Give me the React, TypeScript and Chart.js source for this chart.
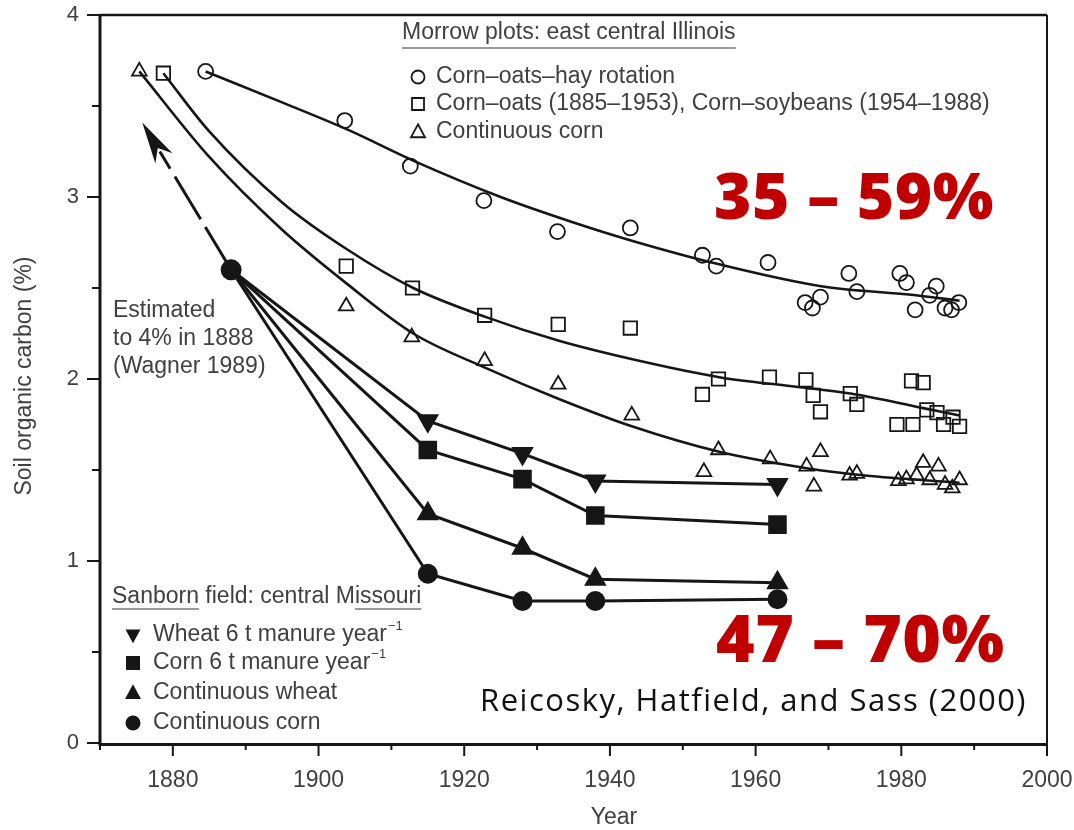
import { useEffect, useRef } from 'react';
import { Chart, registerables } from 'chart.js';
Chart.register(...registerables);

const FONT = '"Liberation Sans", Arial, sans-serif';
const BIG_FONT = '"Open Sans", "Noto Sans", sans-serif';
const INK = '#161616';
const GREY = '#404040';
const RED = '#c00000';

// Axis ranges / ticks
const xMin = 1870;
const xMax = 2000;
const yMin = 0;
const yMax = 4;
const xTickLabels = [1880, 1900, 1920, 1940, 1960, 1980, 2000];
const yTickLabels = [0, 1, 2, 3, 4];

// Morrow plots: observed points
const circleYears = [1884.5, 1903.6, 1912.6, 1922.7, 1932.8, 1942.8, 1952.7, 1954.6, 1961.7, 1966.8, 1967.8, 1968.9, 1972.8, 1973.9, 1979.8, 1980.7, 1981.9, 1983.9, 1984.8, 1986.0, 1986.9, 1987.9];
const circleVals = [3.69, 3.42, 3.17, 2.98, 2.81, 2.83, 2.68, 2.62, 2.64, 2.42, 2.39, 2.45, 2.58, 2.48, 2.58, 2.53, 2.38, 2.46, 2.51, 2.39, 2.38, 2.42];

const squareYears = [1878.7, 1903.8, 1912.9, 1922.8, 1932.9, 1942.8, 1952.7, 1954.9, 1961.9, 1966.9, 1967.9, 1968.9, 1973.0, 1973.9, 1979.4, 1981.6, 1981.4, 1983.0, 1983.5, 1984.9, 1985.8, 1987.1, 1988.0];
const squareVals = [3.68, 2.62, 2.50, 2.35, 2.30, 2.28, 1.915, 2.00, 2.01, 1.995, 1.91, 1.82, 1.92, 1.86, 1.75, 1.75, 1.99, 1.98, 1.83, 1.815, 1.75, 1.79, 1.74];

const triangleYears = [1875.4, 1903.8, 1912.8, 1922.8, 1932.9, 1943.0, 1952.9, 1954.9, 1962.0, 1967.0, 1968.0, 1968.9, 1972.9, 1973.9, 1979.6, 1980.7, 1982.1, 1983.0, 1983.9, 1985.1, 1986.0, 1987.0, 1988.0];
const triangleVals = [3.69, 2.40, 2.23, 2.10, 1.97, 1.80, 1.49, 1.61, 1.56, 1.52, 1.41, 1.60, 1.47, 1.48, 1.44, 1.45, 1.47, 1.54, 1.445, 1.52, 1.42, 1.40, 1.445];

// Morrow plots: fitted curves
const circleFitYears = [1884.5, 1895, 1904, 1913, 1925, 1935, 1943, 1955, 1969, 1982, 1988];
const circleFitVals = [3.69, 3.52, 3.37, 3.20, 3.00, 2.86, 2.76, 2.63, 2.51, 2.46, 2.43];
const squareFitYears = [1878.7, 1885, 1895, 1904, 1913, 1923, 1933, 1944, 1955, 1965, 1973, 1983, 1988];
const squareFitVals = [3.68, 3.36, 2.97, 2.71, 2.50, 2.34, 2.21, 2.10, 2.01, 1.96, 1.92, 1.84, 1.80];
const triangleFitYears = [1875.4, 1885, 1895, 1904, 1913, 1923, 1933, 1943, 1955, 1967, 1975, 1988];
const triangleFitVals = [3.69, 3.22, 2.82, 2.52, 2.25, 2.06, 1.89, 1.74, 1.60, 1.51, 1.47, 1.43];

// Sanborn field
const sanbornYears = [1888, 1915, 1928, 1938, 1963];
const wheatManure = [2.6, 1.77, 1.59, 1.44, 1.42];
const cornManure = [2.6, 1.61, 1.45, 1.25, 1.20];
const contWheat = [2.6, 1.26, 1.07, 0.90, 0.88];
const contCorn = [2.6, 0.93, 0.78, 0.78, 0.79];

// Annotation: estimated 4% in 1888 arrow
const arrowFrom = { x: 1888, y: 2.6 };
const arrowTo = { x: 1875.8, y: 3.41 };

const pts = (xs: number[], ys: number[]) => xs.map((x, i) => ({ x, y: ys[i] }));

function drawMarker(ctx: CanvasRenderingContext2D, kind: string, x: number, y: number, s: number, filled: boolean) {
  ctx.beginPath();
  if (kind === 'circle') {
    ctx.arc(x, y, s, 0, Math.PI * 2);
  } else if (kind === 'square') {
    ctx.rect(x - s, y - s, 2 * s, 2 * s);
  } else if (kind === 'tri') {
    ctx.moveTo(x, y - s * 1.1);
    ctx.lineTo(x + s, y + s * 0.75);
    ctx.lineTo(x - s, y + s * 0.75);
    ctx.closePath();
  } else if (kind === 'itri') {
    ctx.moveTo(x, y + s * 1.1);
    ctx.lineTo(x + s, y - s * 0.75);
    ctx.lineTo(x - s, y - s * 0.75);
    ctx.closePath();
  }
  if (filled) {
    ctx.fillStyle = INK;
    ctx.fill();
  } else {
    ctx.strokeStyle = INK;
    ctx.lineWidth = 1.8;
    ctx.stroke();
  }
}

const overlay = {
  id: 'overlay',
  afterDraw(chart: any) {
    const ctx: any = chart.ctx;
    const a = chart.chartArea;
    const xs = chart.scales.x;
    const ys = chart.scales.y;
    ctx.save();

    // frame
    ctx.strokeStyle = INK;
    ctx.lineCap = 'butt';
    ctx.lineWidth = 2.5;
    ctx.beginPath();
    ctx.moveTo(a.left, a.top);
    ctx.lineTo(a.right, a.top);
    ctx.stroke();
    ctx.lineWidth = 2;
    ctx.beginPath();
    ctx.moveTo(a.right, a.top);
    ctx.lineTo(a.right, a.bottom);
    ctx.stroke();
    ctx.lineWidth = 3;
    ctx.beginPath();
    ctx.moveTo(a.left, a.top - 1);
    ctx.lineTo(a.left, a.bottom + 1.5);
    ctx.lineTo(a.right + 1, a.bottom + 1.5);
    ctx.stroke();

    // ticks
    ctx.lineWidth = 2;
    for (let v = yMin; v <= yMax + 1e-9; v += 0.5) {
      const py = ys.getPixelForValue(v);
      const len = Number.isInteger(v) ? 13 : 8;
      ctx.beginPath();
      ctx.moveTo(a.left - len, py);
      ctx.lineTo(a.left, py);
      ctx.stroke();
    }
    for (let v = xMin; v <= xMax; v += 10) {
      const px = xs.getPixelForValue(v);
      const len = v % 20 === 0 ? 13 : 7;
      ctx.beginPath();
      ctx.moveTo(px, a.bottom);
      ctx.lineTo(px, a.bottom + len);
      ctx.stroke();
    }

    // tick labels
    ctx.fillStyle = GREY;
    ctx.font = `22px ${FONT}`;
    ctx.textAlign = 'right';
    ctx.textBaseline = 'middle';
    yTickLabels.forEach((v) => ctx.fillText(String(v), 79, ys.getPixelForValue(v)));
    ctx.font = `23px ${FONT}`;
    ctx.textAlign = 'center';
    xTickLabels.forEach((v) => ctx.fillText(String(v), xs.getPixelForValue(v), a.bottom + 38));

    // axis titles
    ctx.fillText('Year', 614, 818);
    ctx.save();
    ctx.translate(25, 376);
    ctx.rotate(-Math.PI / 2);
    ctx.fillText('Soil organic carbon (%)', 0, 0);
    ctx.restore();

    // Morrow legend
    ctx.textAlign = 'left';
    ctx.font = `23px ${FONT}`;
    const mTitle = 'Morrow plots: east central Illinois';
    ctx.fillText(mTitle, 402, 33);
    const mw = ctx.measureText(mTitle).width;
    ctx.strokeStyle = '#777';
    ctx.lineWidth = 1.5;
    ctx.beginPath();
    ctx.moveTo(402, 48);
    ctx.lineTo(402 + mw, 48);
    ctx.stroke();
    drawMarker(ctx, 'circle', 418, 77, 6.5, false);
    drawMarker(ctx, 'square', 418, 104, 6, false);
    drawMarker(ctx, 'tri', 418, 132, 7, false);
    ctx.fillStyle = GREY;
    ctx.fillText('Corn\u2013oats\u2013hay rotation', 436, 77);
    ctx.fillText('Corn\u2013oats (1885\u20131953), Corn\u2013soybeans (1954\u20131988)', 436, 104);
    ctx.fillText('Continuous corn', 436, 132);

    // Sanborn legend
    const sTitle = 'Sanborn field: central Missouri';
    ctx.fillText(sTitle, 112, 597);
    ctx.strokeStyle = '#777';
    ctx.lineWidth = 1.5;
    const wSan = ctx.measureText('Sanborn').width;
    ctx.beginPath();
    ctx.moveTo(112, 609);
    ctx.lineTo(112 + wSan, 609);
    ctx.stroke();
    const preM = ctx.measureText('Sanborn field: central M').width;
    const wIss = ctx.measureText('issouri').width;
    ctx.beginPath();
    ctx.moveTo(112 + preM, 609);
    ctx.lineTo(112 + preM + wIss, 609);
    ctx.stroke();

    drawMarker(ctx, 'itri', 133, 635, 7.5, true);
    drawMarker(ctx, 'square', 133, 663, 7, true);
    drawMarker(ctx, 'tri', 133, 693, 8, true);
    drawMarker(ctx, 'circle', 133, 723, 7.5, true);
    ctx.fillStyle = GREY;
    const sup = (base: string, x: number, y: number) => {
      ctx.font = `23px ${FONT}`;
      ctx.fillText(base, x, y);
      const w = ctx.measureText(base).width;
      ctx.font = `13px ${FONT}`;
      ctx.fillText('\u22121', x + w + 1, y - 9);
      ctx.font = `23px ${FONT}`;
    };
    sup('Wheat 6 t manure year', 153, 635);
    sup('Corn 6 t manure year', 153, 663);
    ctx.fillText('Continuous wheat', 153, 693);
    ctx.fillText('Continuous corn', 153, 723);

    // Estimated text
    ctx.fillText('Estimated', 113, 311);
    ctx.fillText('to 4% in 1888', 113, 339);
    ctx.fillText('(Wagner 1989)', 113, 367);

    // dashed arrow
    const p0x = xs.getPixelForValue(arrowFrom.x);
    const p0y = ys.getPixelForValue(arrowFrom.y);
    const p1x = xs.getPixelForValue(arrowTo.x);
    const p1y = ys.getPixelForValue(arrowTo.y);
    const dx = p1x - p0x;
    const dy = p1y - p0y;
    const L = Math.hypot(dx, dy);
    const ux = dx / L;
    const uy = dy / L;
    const headLen = 42;
    const headW = 10;
    ctx.strokeStyle = INK;
    ctx.lineWidth = 3;
    ctx.setLineDash([50, 9]);
    ctx.beginPath();
    ctx.moveTo(p0x, p0y);
    ctx.lineTo(p1x - ux * (headLen - 8), p1y - uy * (headLen - 8));
    ctx.stroke();
    ctx.setLineDash([]);
    const bx = p1x - ux * headLen;
    const by = p1y - uy * headLen;
    const nx = -uy;
    const ny = ux;
    ctx.fillStyle = INK;
    ctx.beginPath();
    ctx.moveTo(p1x, p1y);
    ctx.lineTo(bx + nx * headW, by + ny * headW);
    ctx.lineTo(p1x - ux * (headLen - 12), p1y - uy * (headLen - 12));
    ctx.lineTo(bx - nx * headW, by - ny * headW);
    ctx.closePath();
    ctx.fill();

    // red percentages
    ctx.fillStyle = RED;
    ctx.textAlign = 'left';
    ctx.textBaseline = 'alphabetic';
    ctx.letterSpacing = '0.5px';
    ctx.font = `800 64px ${BIG_FONT}`;
    ctx.fillText('35 \u2013 59%', 714, 219);
    ctx.font = `800 66px ${BIG_FONT}`;
    ctx.fillText('47 \u2013 70%', 716, 662);

    // citation
    ctx.fillStyle = '#111';
    ctx.letterSpacing = '1.5px';
    ctx.font = `400 31px ${BIG_FONT}`;
    ctx.textAlign = 'right';
    ctx.fillText('Reicosky, Hatfield, and Sass (2000)', 1027, 711);
    ctx.letterSpacing = '0px';

    ctx.restore();
  },
};

export default function App() {
  const ref = useRef<HTMLCanvasElement>(null);
  useEffect(() => {
    const canvas = ref.current!;
    const openPoint = {
      showLine: false,
      borderColor: INK,
      backgroundColor: 'rgba(0,0,0,0)',
      pointBorderWidth: 1.8,
    };
    const fitLine = {
      showLine: true,
      borderColor: INK,
      borderWidth: 2.6,
      pointRadius: 0,
      cubicInterpolationMode: 'monotone' as const,
      tension: 0.4,
    };
    const sanbornLine = {
      showLine: true,
      borderColor: INK,
      backgroundColor: INK,
      borderWidth: 3,
      tension: 0,
    };
    const chart = new Chart(canvas, {
      type: 'scatter',
      data: {
        datasets: [
          { ...openPoint, data: pts(circleYears, circleVals), pointStyle: 'circle', pointRadius: 7.5 },
          { ...openPoint, data: pts(squareYears, squareVals), pointStyle: 'rect', pointRadius: 9.5 },
          { ...openPoint, data: pts(triangleYears, triangleVals), pointStyle: 'triangle', pointRadius: 8.5 },
          { ...fitLine, data: pts(circleFitYears, circleFitVals) },
          { ...fitLine, data: pts(squareFitYears, squareFitVals) },
          { ...fitLine, data: pts(triangleFitYears, triangleFitVals) },
          { ...sanbornLine, data: pts(sanbornYears, wheatManure), pointStyle: 'triangle', rotation: 180, pointRadius: [0, 10, 10, 10, 10] },
          { ...sanbornLine, data: pts(sanbornYears, cornManure), pointStyle: 'rect', pointRadius: [0, 11, 11, 11, 11] },
          { ...sanbornLine, data: pts(sanbornYears, contWheat), pointStyle: 'triangle', pointRadius: [0, 10, 10, 10, 10] },
          { ...sanbornLine, data: pts(sanbornYears, contCorn), pointStyle: 'circle', pointRadius: [9, 8.5, 8.5, 8.5, 8.5] },
        ] as any,
      },
      options: {
        animation: false,
        responsive: false,
        layout: { padding: { top: 15, right: 27, left: 0, bottom: 0 } },
        plugins: { legend: { display: false }, tooltip: { enabled: false } },
        scales: {
          x: {
            type: 'linear',
            min: xMin,
            max: xMax,
            grid: { display: false },
            border: { display: false },
            ticks: { display: false },
            afterFit: (s: any) => { s.height = 87; },
          },
          y: {
            type: 'linear',
            min: yMin,
            max: yMax,
            grid: { display: false },
            border: { display: false },
            ticks: { display: false },
            afterFit: (s: any) => { s.width = 100; },
          },
        },
      } as any,
      plugins: [overlay],
    });
    return () => chart.destroy();
  }, []);
  return (
    <canvas
      ref={ref}
      width={1074}
      height={830}
      style={{ position: 'absolute', left: 0, top: 0, display: 'block', background: '#fff' }}
    />
  );
}
